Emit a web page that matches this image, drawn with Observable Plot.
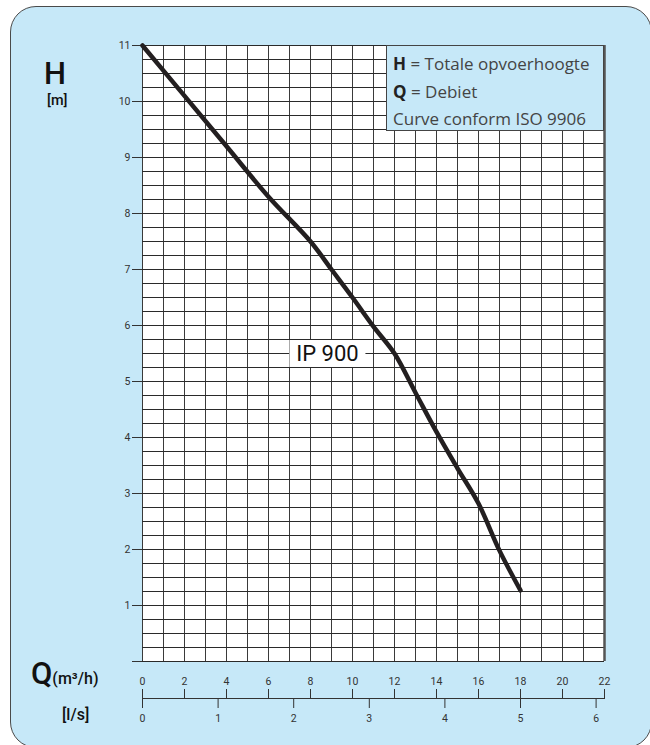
<!DOCTYPE html>
<html>
<head>
<meta charset="utf-8">
<script src="https://cdn.jsdelivr.net/npm/d3@7"></script>
<script src="https://cdn.jsdelivr.net/npm/@observablehq/plot@0.6"></script>
<style>
  html, body { margin: 0; padding: 0; background: #ffffff; }
  #wrap { position: relative; width: 650px; height: 745px; overflow: hidden; font-family: Roboto, "DejaVu Sans", sans-serif; }
  #panel { position: absolute; left: 10px; top: 6px; width: 642px; height: 742px; box-sizing: border-box;
           background: #c6e8f8; border: 1.5px solid #4a4a4a; border-radius: 26px; }
  #chart { position: absolute; left: 0; top: 0; }
  .lbl { position: absolute; color: #111; white-space: nowrap; line-height: 1; }
  #legend { position: absolute; left: 386px; top: 45px; width: 218px; height: 86px; box-sizing: border-box;
            background: #c6e8f8; border: 1.5px solid #444; color: #444; font-family: "Open Sans", sans-serif;
            font-size: 17px; padding: 4px 0 0 6px; line-height: 27.5px; }
  #legend b { color: #222; font-weight: 700; }
</style>
</head>
<body>
<div id="wrap">
  <div id="panel"></div>
  <div id="chart"></div>
  <div class="lbl" style="left:44px; top:58px; font-size:31px; font-weight:500;">H</div>
  <div class="lbl" style="left:47px; top:93.5px; font-size:14.5px; font-weight:500;">[m]</div>
  <div class="lbl" style="left:31px; top:658px; font-size:31px; font-weight:500;">Q<span style="font-size:16px;">(m³/h)</span></div>
  <div class="lbl" style="left:62px; top:707px; font-size:16px; font-weight:500;">[l/s]</div>
  <div id="legend">
    <div><b>H</b> = Totale opvoerhoogte</div>
    <div><b>Q</b> = Debiet</div>
    <div>Curve conform ISO 9906</div>
  </div>
</div>
<script>
// Pump curve IP 900: flow Q (m³/h) vs head H (m)
const flowQ = [0, 2, 4, 6, 8, 9, 10, 11, 12, 13, 14, 15, 16, 17, 18];
const headH = [11, 10.1, 9.2, 8.3, 7.5, 7.0, 6.5, 5.98, 5.5, 4.8, 4.1, 3.45, 2.82, 1.98, 1.27];

// axis ticks
const qTicks = [0, 2, 4, 6, 8, 10, 12, 14, 16, 18, 20, 22];
const lsTicks = [0, 1, 2, 3, 4, 5, 6];
const hTicks = [0, 1, 2, 3, 4, 5, 6, 7, 8, 9, 10, 11];

// grid lines
const gridQ = d3.range(0, 23, 1);
const gridH = d3.range(0, 11.001, 0.25);

// curve label
const curveLabels = [{q: 8.83, h: 5.5, text: "IP 900"}];

const M3H_PER_LS = 3.6;

const curve = flowQ.map((q, i) => ({q, h: headH[i]}));

function labelMark(index, {x, y}) {
  const g = d3.create("svg:g");
  for (const d of curveLabels) {
    const cx = x(d.q), cy = y(d.h);
    g.append("rect").attr("x", cx - 38).attr("y", cy - 13).attr("width", 76).attr("height", 27).attr("fill", "white");
    g.append("text").attr("x", cx).attr("y", cy + 8).attr("text-anchor", "middle")
      .attr("font-size", 22).attr("fill", "#111").attr("font-family", "Roboto, sans-serif").text(d.text);
  }
  return g.node();
}

const chart = Plot.plot({
  width: 650,
  height: 745,
  marginLeft: 142,
  marginRight: 46,
  marginTop: 45,
  marginBottom: 84,
  x: {domain: [0, 22]},
  y: {domain: [0, 11]},
  style: {background: "transparent", fontFamily: "Roboto, sans-serif", fontSize: "10.5px", color: "#333", overflow: "visible"},
  marks: [
    Plot.frame({fill: "white", stroke: "none"}),
    Plot.ruleX(gridQ, {stroke: "#3a3a3a", strokeWidth: 1}),
    Plot.ruleY(gridH, {stroke: "#2a2a2a", strokeWidth: 1}),
    Plot.ruleX([22], {stroke: "#555", strokeWidth: 2.5}),
    Plot.axisY({ticks: hTicks, tickSize: 10, tickPadding: 2, tickFormat: d => d === 0 ? "" : d, label: null}),
    Plot.axisX({anchor: "top", ticks: qTicks, tickSize: 10, tickPadding: 4, dy: 653, label: null}),
    Plot.axisX({anchor: "bottom", ticks: lsTicks.map(v => v * M3H_PER_LS), tickFormat: d => Math.round(d / M3H_PER_LS),
                tickSize: 10, tickPadding: 6, dy: 37, label: null}),
    Plot.ruleY([0], {dy: 37, stroke: "#333", strokeWidth: 1.2}),
    Plot.line(curve, {x: "q", y: "h", stroke: "#231f20", strokeWidth: 4.5, curve: "catmull-rom", strokeLinecap: "round"}),
    labelMark
  ]
});
document.getElementById("chart").appendChild(chart);
</script>
</body>
</html>
